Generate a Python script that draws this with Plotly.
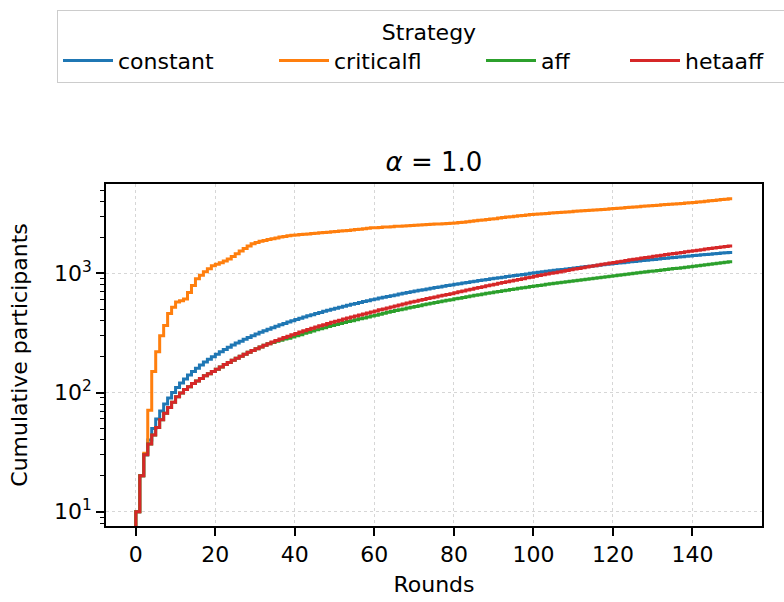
import plotly.graph_objects as go

# ---------------- data ----------------
rounds = list(range(0, 151))

constant = [0, 10, 20, 30, 40, 50, 60, 70, 80, 90, 100,
            110, 120, 130, 140, 150, 160, 170, 180, 190, 200,
            210, 220, 230, 240, 250, 260, 270, 280, 290, 300,
            310, 320, 330, 340, 350, 360, 370, 380, 390, 400,
            410, 420, 430, 440, 450, 460, 470, 480, 490, 500,
            510, 520, 530, 540, 550, 560, 570, 580, 590, 600,
            610, 620, 630, 640, 650, 660, 670, 680, 690, 700,
            710, 720, 730, 740, 750, 760, 770, 780, 790, 800,
            810, 820, 830, 840, 850, 860, 870, 880, 890, 900,
            910, 920, 930, 940, 950, 960, 970, 980, 990, 1000,
            1010, 1020, 1030, 1040, 1050, 1060, 1070, 1080, 1090, 1100,
            1110, 1120, 1130, 1140, 1150, 1160, 1170, 1180, 1190, 1200,
            1210, 1220, 1230, 1240, 1250, 1260, 1270, 1280, 1290, 1300,
            1310, 1320, 1330, 1340, 1350, 1360, 1370, 1380, 1390, 1400,
            1410, 1420, 1430, 1440, 1450, 1460, 1470, 1480, 1490, 1500]

criticalfl = [0, 10, 20, 31, 71, 150, 220, 300, 366, 460, 520,
              575, 590, 610, 690, 790, 900, 965, 1030, 1095, 1160,
              1195, 1230, 1270, 1320, 1385, 1460, 1540, 1620, 1700, 1770,
              1820, 1860, 1890, 1925, 1955, 1985, 2015, 2040, 2065, 2090,
              2100, 2115, 2130, 2140, 2160, 2175, 2190, 2200, 2215, 2235,
              2250, 2265, 2280, 2295, 2315, 2330, 2350, 2370, 2390, 2410,
              2420, 2430, 2445, 2455, 2465, 2480, 2490, 2500, 2510, 2525,
              2535, 2545, 2560, 2570, 2580, 2590, 2600, 2610, 2620, 2630,
              2650, 2670, 2690, 2715, 2740, 2760, 2785, 2810, 2830, 2855,
              2880, 2910, 2940, 2965, 2990, 3015, 3040, 3065, 3090, 3115,
              3130, 3150, 3170, 3185, 3205, 3220, 3240, 3260, 3275, 3295,
              3315, 3330, 3350, 3370, 3385, 3405, 3420, 3440, 3460, 3480,
              3500, 3520, 3545, 3565, 3585, 3605, 3630, 3650, 3670, 3695,
              3715, 3735, 3760, 3780, 3800, 3825, 3845, 3865, 3890, 3910,
              3940, 3970, 4000, 4030, 4060, 4095, 4130, 4160, 4195, 4230]

aff = [0, 10, 20, 30, 37, 44, 51, 59, 67, 75, 83,
       92, 99, 106, 112, 119, 125, 131, 138, 144, 150,
       157, 164, 172, 179, 187, 194, 202, 210, 218, 225,
       233, 241, 249, 257, 263, 269, 275, 281, 286, 292,
       299, 306, 314, 321, 328, 336, 343, 350, 358, 365,
       372, 379, 387, 394, 401, 409, 416, 423, 431, 438,
       446, 454, 463, 471, 479, 487, 495, 503, 512, 520,
       528, 536, 545, 553, 561, 569, 577, 586, 594, 602,
       611, 619, 628, 637, 645, 654, 663, 671, 680, 689,
       697, 706, 715, 723, 732, 740, 749, 758, 766, 775,
       783, 792, 800, 809, 817, 826, 834, 843, 851, 860,
       868, 877, 885, 894, 902, 911, 919, 928, 936, 945,
       954, 964, 973, 983, 992, 1002, 1011, 1021, 1030, 1040,
       1049, 1059, 1068, 1078, 1087, 1097, 1106, 1116, 1125, 1135,
       1147, 1158, 1170, 1181, 1193, 1204, 1216, 1227, 1239, 1250]

hetaaff = [0, 10, 20, 30, 37, 44, 51, 59, 67, 75, 83,
           92, 99, 106, 112, 119, 125, 131, 138, 144, 150,
           157, 164, 172, 179, 187, 194, 202, 210, 218, 225,
           233, 241, 249, 257, 265, 273, 281, 289, 297, 305,
           313, 322, 330, 338, 346, 355, 363, 371, 380, 388,
           397, 405, 414, 422, 431, 439, 448, 457, 465, 474,
           484, 494, 503, 513, 523, 533, 543, 554, 564, 574,
           584, 594, 605, 615, 625, 635, 645, 656, 666, 676,
           688, 700, 712, 725, 737, 749, 762, 774, 787, 800,
           812, 825, 838, 851, 864, 877, 890, 903, 917, 930,
           944, 958, 972, 986, 1000, 1014, 1029, 1043, 1058, 1072,
           1087, 1101, 1116, 1130, 1145, 1160, 1175, 1190, 1205, 1220,
           1236, 1251, 1267, 1282, 1298, 1313, 1329, 1344, 1360, 1375,
           1391, 1406, 1422, 1437, 1453, 1468, 1484, 1499, 1515, 1530,
           1547, 1564, 1581, 1598, 1615, 1632, 1649, 1666, 1683, 1700]

series_names = ["constant", "criticalfl", "aff", "hetaaff"]
series_values = [constant, criticalfl, aff, hetaaff]
colors = ["#1f77b4", "#ff7f0e", "#2ca02c", "#d62728"]
legend_widths = [151, 142, 79, 110]

x_tickvals = [0, 20, 40, 60, 80, 100, 120, 140]
y_tickvals = [10, 100, 1000]
y_ticktext = ["10<sup>1</sup>", "10<sup>2</sup>", "10<sup>3</sup>"]
y_minor = [m * 10 ** k for k in (0, 1, 2, 3) for m in range(2, 10)]

FONT = "DejaVu Sans"
W, H = 784, 602
L, R, T, B = 106, 22, 184, 76
PW, PH = W - L - R, H - T - B

fig = go.Figure()
for name, vals, col, lw in zip(series_names, series_values, colors, legend_widths):
    # like matplotlib on a log axis, a zero is sent far below the visible range
    yv = [v if v > 0 else 1e-1 for v in vals]
    fig.add_trace(go.Scatter(
        x=rounds, y=yv, name=name, mode="lines",
        line=dict(color=col, width=3, shape="vh"),
        legendwidth=lw,
    ))

grid_col = "#d6d6d6"
fig.update_layout(
    width=W, height=H,
    margin=dict(l=L, r=R, t=T, b=B, autoexpand=False),
    plot_bgcolor="white", paper_bgcolor="white",
    font=dict(family=FONT, size=22, color="black"),
    title=dict(text="<i>α</i> = 1.0", x=0.5, xref="paper", xanchor="center",
               y=1 - 162 / H, yref="container", yanchor="middle",
               font=dict(family=FONT, size=26, color="black")),
    legend=dict(
        orientation="h", xref="paper", yref="paper",
        x=(57 - L) / PW, y=(H - B - 10) / PH, xanchor="left", yanchor="top",
        title=dict(text="Strategy", side="top center", font=dict(size=22)),
        bordercolor="#cccccc", borderwidth=1, bgcolor="rgba(255,255,255,0.8)",
        font=dict(family=FONT, size=22, color="black"),
        itemwidth=50,
    ),
    showlegend=True,
)
fig.update_xaxes(
    range=[-7.5, 157.5], tickmode="array", tickvals=x_tickvals,
    ticks="outside", ticklen=8, tickwidth=1.8, tickcolor="black",
    showline=True, linewidth=1.8, linecolor="black", mirror=True,
    showgrid=True, gridcolor=grid_col, griddash="dot", gridwidth=1.3,
    zeroline=False, automargin=False,
    title=dict(text="Rounds", standoff=10, font=dict(size=22)),
)
fig.update_yaxes(
    type="log", range=[0.88, 3.75], tickmode="array",
    tickvals=y_tickvals, ticktext=y_ticktext,
    ticks="outside", ticklen=8, tickwidth=1.8, tickcolor="black",
    minor=dict(tickmode="array", tickvals=y_minor, ticks="outside",
               ticklen=4.5, tickwidth=1.3, tickcolor="black", showgrid=False),
    showline=True, linewidth=1.8, linecolor="black", mirror=True,
    showgrid=True, gridcolor=grid_col, griddash="dot", gridwidth=1.3,
    zeroline=False, automargin=False,
    title=dict(text="Cumulative participants", standoff=20, font=dict(size=22)),
)

fig.write_html("out.html", config={"displayModeBar": False},
               post_script="document.body.style.margin='0';")
